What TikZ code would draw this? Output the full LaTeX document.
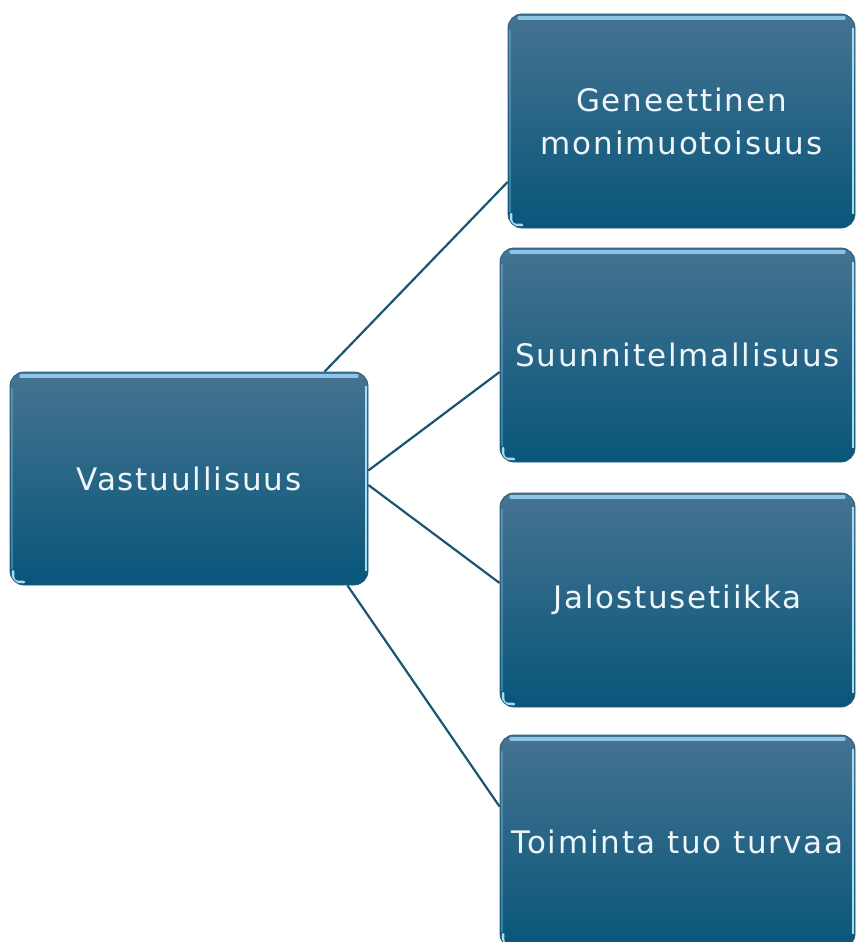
\documentclass[tikz,border=0pt]{standalone}
\usepackage{fontspec}
\setmainfont{DejaVu Sans}[LetterSpace=6]
\usetikzlibrary{calc}

\definecolor{boxtop}{RGB}{70,115,145}
\definecolor{boxbot}{RGB}{8,86,122}
\definecolor{boxedge}{RGB}{38,92,124}
\definecolor{gloss}{RGB}{140,198,230}
\definecolor{rim}{RGB}{165,222,244}
\definecolor{link}{RGB}{26,86,112}
\definecolor{label}{RGB}{238,246,250}

\tikzset{
  panel/.style={
    rounded corners=14pt, inner sep=0pt,
    top color=boxtop, bottom color=boxbot,
    draw=boxedge, line width=0.8pt,
    text=label, align=center,
    font=\fontsize{31}{43}\selectfont,
    path picture={
      \path (path picture bounding box.north west) coordinate (pnw)
            (path picture bounding box.south east) coordinate (pse);
      % glossy strip under the top edge
      \draw[gloss, line width=3.5pt, line cap=round]
        ($(pnw)+(11,4)$) -- ($(pse|-pnw)+(-11,4)$);
      % bright rim on the right side
      \draw[rim, line width=2.2pt]
        ($(pse|-pnw)+(-2,14)$) -- ($(pse)+(-2,-14)$);
      % faint rim on the left side
      \draw[gloss, opacity=0.35, line width=2pt]
        ($(pnw)+(2,16)$) -- ($(pnw|-pse)+(2,-16)$);
      % glint in the lower left corner
      \draw[rim, line width=2.5pt, line cap=round]
        ($(pnw|-pse)+(3,-14)$) .. controls ($(pnw|-pse)+(3,-3)$) .. ($(pnw|-pse)+(14,-3)$);
    }},
  link/.style={draw=link, line width=2.2pt}
}

\begin{document}
\begin{tikzpicture}[x=1pt, y=-1pt]
  \useasboundingbox (0,0) rectangle (857,942);
  \clip (0,0) rectangle (857,942);

  % root
  \node[panel, minimum width=358pt, minimum height=213pt] (root) at (189,478.5) {Vastuullisuus};

  % branches
  \node[panel, minimum width=347pt, minimum height=214pt] (gen) at (681.5,121) {Geneettinen\\monimuotoisuus};
  \node[panel, minimum width=355pt, minimum height=214pt] (plan) at (677.5,355) {Suunnitelmallisuus};
  \node[panel, minimum width=355pt, minimum height=214pt] (eth) at (677.5,600) {Jalostusetiikka};
  \node[panel, minimum width=355pt, minimum height=213pt] (act) at (677.5,841.5) {Toiminta tuo turvaa};

  % connectors
  \draw[link] ($(root.north west)+(315,0)$) -- ($(gen.west)+(0,61)$);
  \draw[link] ($(root.east)+(0,-8)$) -- ($(plan.west)+(0,17)$);
  \draw[link] ($(root.east)+(0,6.5)$) -- ($(eth.west)+(0,-17)$);
  \draw[link] ($(root.south east)+(-21,0)$) -- ($(act.north west)+(0,72)$);
\end{tikzpicture}
\end{document}
